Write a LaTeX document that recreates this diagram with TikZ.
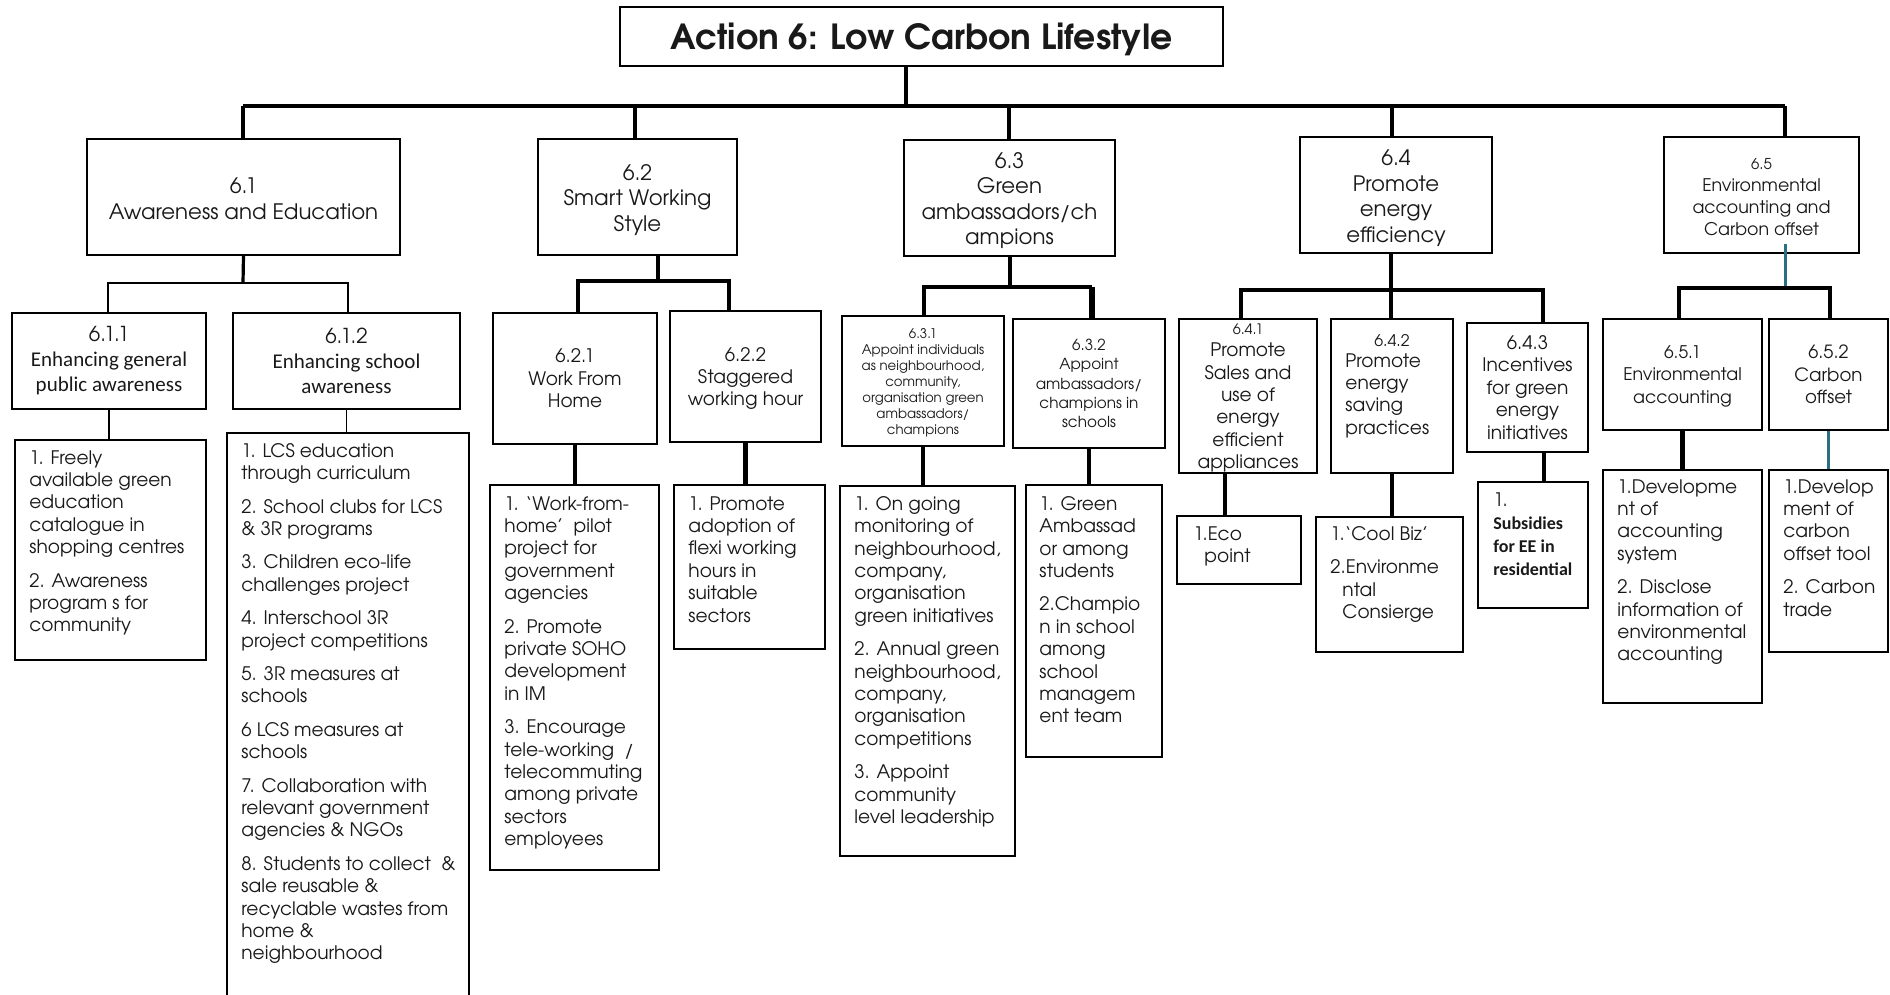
\documentclass[tikz,border=0pt]{standalone}
\usepackage{fontspec}
\setmainfont{texgyreadventor}[Extension=.otf, UprightFont=*-regular, BoldFont=*-bold, ItalicFont=*-italic, BoldItalicFont=*-bolditalic]
\newfontfamily\calibfont{Carlito}
\usetikzlibrary{fit}
\definecolor{tealline}{RGB}{40,112,130}
\newcommand\bodysize{\fontsize{9.3}{11.2}\selectfont}
\newcommand\headsize{\fontsize{10.65}{12.75}\selectfont}
\newcommand\numsize{\fontsize{7.2}{11.2}\selectfont}

\begin{document}
\begin{tikzpicture}[x=0.5pt,y=-0.5pt,
  hbox/.style={draw=black, line width=1pt, inner sep=0pt},
  htext/.style={inner sep=0pt, align=center, text=black!90, font=\bodysize},
  lbox/.style={draw=black, line width=1.2pt, inner sep=0pt},
  ltext/.style={anchor=north west, inner sep=0pt, align=left, font=\bodysize, text=black!90},
  wire/.style={line width=1.6pt},
  heavywire/.style={line width=2.2pt},
  thinwire/.style={line width=0.8pt},
  tealwire/.style={line width=1.5pt, draw=tealline}]

\fill[white] (0,0) rectangle (1890,995);
\useasboundingbox (0,0) rectangle (1890,995);
\clip (0,0) rectangle (1890,995);

% ---------- title and main actions ----------
\node[hbox, line width=1.4pt, fit={(620,7)(1223,66)}] (title) {};
\node[htext, font=\bfseries\fontsize{17.3}{20}\selectfont, yshift=-1.5pt] (titletext) at (title.center) {Action 6: Low Carbon Lifestyle};

\node[hbox, fit={(87,139)(400,255)}] (a61) {};
\node[htext, font=\headsize, yshift=-1pt] (x61) at (a61.center) {6.1\\Awareness and Education};
\node[hbox, fit={(538,139)(737,255)}] (a62) {};
\node[htext, font=\headsize, yshift=-1.5pt] (x62) at (a62.center) {6.2\\Smart Working\\Style};
\node[hbox, fit={(904,140)(1115,256)}] (a63) {};
\node[htext, font=\headsize, yshift=-1.2pt] (x63) at (a63.center) {6.3\\Green\\ambassadors/ch\\ampions};
\node[hbox, fit={(1300,137)(1492,253)}] (a64) {};
\node[htext, font=\headsize, yshift=-1.5pt] (x64) at (a64.center) {6.4\\Promote\\energy\\efficiency};
\node[hbox, fit={(1664,137)(1859,253)}] (a65) {};
\node[htext, font=\fontsize{8.7}{11}\selectfont, yshift=-1pt] (x65) at (a65.center) {{\fontsize{7.5}{11}\selectfont 6.5}\\Environmental\\accounting and\\Carbon offset};

% ---------- sub-actions ----------
\node[hbox, fit={(12,313)(206,409)}] (b611) {};
\node[htext, font=\calibfont\fontsize{10.5}{12.5}\selectfont] (y611) at (b611.center) {{\rmfamily\fontsize{10.3}{12.5}\selectfont 6.1.1}\\Enhancing general\\public awareness};
\node[hbox, fit={(233,313)(460,409)}] (b612) {};
\node[htext, font=\calibfont\fontsize{10.5}{12.5}\selectfont] (y612) at (b612.center) {{\rmfamily\fontsize{10.3}{12.5}\selectfont 6.1.2}\\Enhancing school\\awareness};
\node[hbox, fit={(493,313)(657,444)}] (b621) {};
\node[htext] (y621) at (b621.center) {6.2.1\\Work From\\Home};
\node[hbox, fit={(670,311)(821,442)}] (b622) {};
\node[htext, yshift=-1pt] (y622) at (b622.center) {6.2.2\\Staggered\\working hour};
\node[hbox, fit={(842,316)(1004,446)}] (b631) {};
\node[htext, font=\fontsize{6.65}{8}\selectfont, yshift=-0.8pt] (y631) at (b631.center) {6.3.1\\Appoint individuals\\as neighbourhood,\\community,\\organisation green\\ambassadors/\\champions};
\node[hbox, fit={(1013,319)(1165,448)}] (b632) {};
\node[htext, font=\fontsize{7.6}{9.7}\selectfont] (y632) at (b632.center) {6.3.2\\Appoint\\ambassadors/\\champions in\\schools};
\node[hbox, fit={(1179,319)(1317,473)}] (b641) {};
\node[htext, yshift=-1pt] (y641) at (b641.center) {{\numsize 6.4.1}\\Promote\\Sales and\\use of\\energy\\efficient\\appliances};
\node[hbox, fit={(1331,319)(1453,473)}] (b642) {};
\node[htext, font=\fontsize{8}{11.2}\selectfont] (n642) at (1392,341) {6.4.2};
\node[ltext] (y642) at (1345,353) {Promote\\energy\\saving\\practices};
\node[hbox, fit={(1467,323)(1588,452)}] (b643) {};
\node[htext] (y643) at (b643.center) {6.4.3\\Incentives\\for green\\energy\\initiatives};
\node[hbox, fit={(1603,319)(1762,430)}] (b651) {};
\node[htext, font=\fontsize{8.7}{11.25}\selectfont, yshift=-0.8pt] (y651) at (b651.center) {6.5.1\\Environmental\\accounting};
\node[hbox, fit={(1769,319)(1888,430)}] (b652) {};
\node[htext, font=\fontsize{9.1}{11.25}\selectfont] (y652) at (b652.center) {6.5.2\\Carbon\\offset};

% ---------- measure lists ----------
\node[lbox, fit={(15,440)(206,660)}] (c611) {};
\node[ltext] (t611) at (29,450) {1. Freely\\available green\\education\\catalogue in\\shopping centres\\[5.5pt]2. Awareness\\program s for\\community};

\node[lbox, fit={(227,433)(469,1010)}] (c612) {};
\node[ltext] (t612) at (241,443) {1. LCS education\\through curriculum\\[5.5pt]2. School clubs for LCS\\\& 3R programs\\[5.5pt]3. Children eco-life\\challenges project\\[5.5pt]4. Interschool 3R\\project competitions\\[5.5pt]5. 3R measures at\\schools\\[5.5pt]6 LCS measures at\\schools\\[5.5pt]7. Collaboration with\\relevant government\\agencies \& NGOs\\[5.5pt]8. Students to collect~ \&\\sale reusable \&\\recyclable wastes from\\home \&\\neighbourhood};

\node[lbox, fit={(490,485)(659,870)}] (c621) {};
\node[ltext] (t621) at (504,496) {1. ‘Work-from-\\home’~ pilot\\project for\\government\\agencies\\[5.5pt]2. Promote\\private SOHO\\development\\in IM\\[5.5pt]3. Encourage\\tele-working~ /\\telecommuting\\among private\\sectors\\employees};

\node[lbox, fit={(674,485)(825,649)}] (c622) {};
\node[ltext] (t622) at (688,496) {1. Promote\\adoption of\\flexi working\\hours in\\suitable\\sectors};

\node[lbox, fit={(840,486)(1015,856)}] (c631) {};
\node[ltext] (t631) at (854,496) {1. On going\\monitoring of\\neighbourhood,\\company,\\organisation\\green initiatives\\[5.5pt]2. Annual green\\neighbourhood,\\company,\\organisation\\competitions\\[5.5pt]3. Appoint\\community\\level leadership};

\node[lbox, fit={(1026,485)(1162,757)}] (c632) {};
\node[ltext] (t632) at (1039,496) {1. Green\\Ambassad\\or among\\students\\[5.5pt]2.Champio\\n in school\\among\\school\\managem\\ent team};

\node[lbox, fit={(1177,516)(1301,584)}] (c641) {};
\node[ltext] (t641) at (1193,526) {1.Eco\\\hspace*{5.5pt}point};

\node[lbox, fit={(1316,517)(1463,652)}] (c642) {};
\node[ltext] (t642) at (1330,526) {1.‘Cool Biz’\\[5.5pt]2.Environme\\\hspace*{6pt}ntal\\\hspace*{6pt}Consierge};

\node[lbox, fit={(1478,482)(1588,608)}] (c643) {};
\node[ltext, font=\calibfont\bfseries\fontsize{9}{11.5}\selectfont] (t643) at (1493,492) {{\rmfamily\mdseries\bodysize 1.}\\Subsidies\\for EE in\\residential};

\node[lbox, fit={(1603,470)(1762,703)}] (c651) {};
\node[ltext] (t651) at (1617,479) {1.Developme\\nt of\\accounting\\system\\[5.5pt]2. Disclose\\information of\\environmental\\accounting};

\node[lbox, fit={(1769,470)(1888,652)}] (c652) {};
\node[ltext] (t652) at (1783,479) {1.Develop\\ment of\\carbon\\offset tool\\[5.5pt]2. Carbon\\trade};

% ---------- main bus ----------
\coordinate (busT) at (906,106);
\coordinate (busL) at (243,106);
\coordinate (busR) at (1785,106);
\coordinate (d62) at (635,106);
\coordinate (d63) at (1009,106);
\coordinate (d64) at (1392,106);
\draw[wire] (title.south -| busT) -- (busT);
\draw[wire] (busL) -- (busR);
\draw[wire] (busL) -- (busL |- a61.north);
\draw[heavywire] (d62) -- (d62 |- a62.north);
\draw[wire] (d63) -- (d63 |- a63.north);
\draw[wire] (d64) -- (d64 |- a64.north);
\draw[wire] (busR) -- (busR |- a65.north);

% ---------- 6.1 branch ----------
\coordinate (j61) at (243,283);
\coordinate (j611) at (108,283);
\coordinate (j612) at (348,283);
\draw[wire] (a61.south) -- (j61);
\draw[thinwire] (j611 |- b611.north) -- (j611) -- (j612) -- (j612 |- b612.north);
\draw[thinwire] (b611.south) -- (b611.south |- c611.north);
\draw[thinwire] (b612.south) -- (b612.south |- c612.north);

% ---------- 6.2 branch ----------
\coordinate (j62) at (658,281);
\coordinate (j621) at (578,281);
\coordinate (j622) at (729,281);
\draw[heavywire] (a62.south -| j62) -- (j62);
\draw[heavywire] (j621 |- b621.north) -- (j621) -- (j622) -- (j622 |- b622.north);
\draw[heavywire] (b621.south) -- (b621.south |- c621.north);
\draw[heavywire] (b622.south) -- (b622.south |- c622.north);

% ---------- 6.3 branch ----------
\coordinate (j63) at (1010,287);
\coordinate (j631) at (924,287);
\coordinate (j632) at (1092,287);
\draw[heavywire] (a63.south -| j63) -- (j63);
\draw[heavywire] (j631 |- b631.north) -- (j631) -- (j632);
\draw[line width=3.2pt] (j632) -- (j632 |- b632.north);
\draw[heavywire] (b631.south) -- (b631.south |- c631.north);
\draw[heavywire] (b632.south) -- (b632.south |- c632.north);

% ---------- 6.4 branch ----------
\coordinate (j64) at (1391,290);
\coordinate (j641) at (1241,290);
\coordinate (j643) at (1543,290);
\coordinate (s641) at (1225,473);
\coordinate (s643) at (1544,452);
\draw[heavywire] (a64.south -| j64) -- (j64);
\draw[heavywire] (j641 |- b641.north) -- (j641) -- (j643) -- (j643 |- b643.north);
\draw[heavywire] (j64) -- (j64 |- b642.north);
\draw[heavywire] (s641) -- (s641 |- c641.north);
\draw[heavywire] (b642.south) -- (b642.south |- c642.north);
\draw[heavywire] (s643) -- (s643 |- c643.north);

% ---------- 6.5 branch ----------
\coordinate (j65) at (1785,288);
\coordinate (j651) at (1679,288);
\coordinate (j652) at (1830,288);
\draw[tealwire] ([yshift=5pt]a65.south -| j65) -- (j65);
\draw[heavywire] (j651 |- b651.north) -- (j651) -- (j652) -- (j652 |- b652.north);
\draw[heavywire] (b651.south) -- (b651.south |- c651.north);
\draw[tealwire] (b652.south) -- (b652.south |- c652.north);

\end{tikzpicture}
\end{document}
